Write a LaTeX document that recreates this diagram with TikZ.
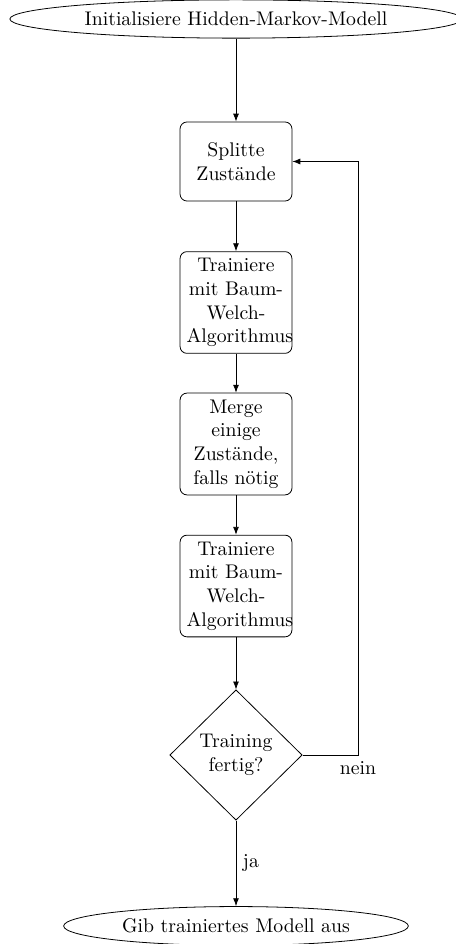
\documentclass[tikz,border=0pt]{standalone}
\usetikzlibrary{shapes.geometric,arrows.meta}
\begin{document}
\begin{tikzpicture}[x=0.5063pt,y=-0.5063pt,
  term/.style={draw,ellipse,inner sep=3.33pt},
  procbox/.style={draw,rectangle,rounded corners=3.5pt,text width=50pt,align=center,minimum height=40pt,inner sep=3.33pt},
  decbox/.style={draw,diamond,aspect=1,align=center,inner sep=1pt,minimum width=67pt,minimum height=66pt},
  arr/.style={-{Latex[length=4pt,width=3pt]},line width=0.4pt}]
\useasboundingbox (0,0) rectangle (455,944);
\node[term,minimum width=229pt] (start) at (236,19) {Initialisiere Hidden-Markov-Modell};
\node[procbox] (split) at (236,161.5) {Splitte Zustände};
\node[procbox] (train1) at (236,302.5) {Trainiere mit Baum-Welch-Algorithmus};
\node[procbox] (merge) at (236,444) {Merge einige Zustände, falls nötig};
\node[procbox] (train2) at (236,586) {Trainiere mit Baum-Welch-Algorithmus};
\node[decbox] (decide) at (236,755) {Training\\fertig?};
\node[term,minimum width=174.5pt] (stop) at (236,926) {Gib trainiertes Modell aus};
\coordinate (corner) at (358,755);
\draw[arr] (start) -- (split);
\draw[arr] (split) -- (train1);
\draw[arr] (train1) -- (merge);
\draw[arr] (merge) -- (train2);
\draw[arr] (train2) -- (decide);
\draw[arr] (decide) -- node[right] {ja} (stop);
\draw[arr] (decide) -- (corner) node[below] {nein} |- (split);
\end{tikzpicture}
\end{document}
